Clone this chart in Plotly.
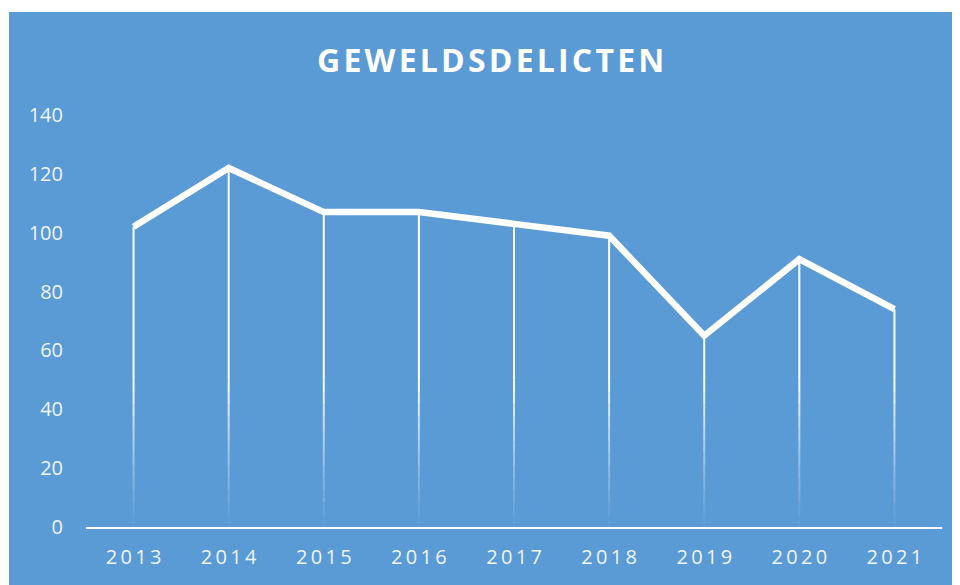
import plotly.graph_objects as go

years = ["2013", "2014", "2015", "2016", "2017", "2018", "2019", "2020", "2021"]
values = [102, 122, 107, 107, 103, 99, 65, 91, 74]
y_ticks = [0, 20, 40, 60, 80, 100, 120, 140]
title_text = "GEWELDSDELICTEN"

BLUE = "#5B9BD5"
OFF = 8  # page body margin
W, H = 960 - OFF, 585 - OFF
L, R, T, B = 86 - OFF, 18, 115 - OFF, 58
pw, ph = W - L - R, H - T - B

fig = go.Figure()

# drop lines: solid top part
fade_top = 50
xs, ys = [], []
for x, v in zip(years, values):
    xs += [x, x, None]
    ys += [v, fade_top, None]
fig.add_trace(go.Scatter(x=xs, y=ys, mode="lines", line=dict(color="white", width=2),
                         hoverinfo="skip", showlegend=False))
# fading part
steps = 12
for k in range(steps):
    y1 = fade_top * (steps - k) / steps
    y0 = fade_top * (steps - k - 1) / steps
    op = 0.95 * ((steps - k) / steps) ** 1.3
    xs, ys = [], []
    for x, v in zip(years, values):
        xs += [x, x, None]
        ys += [min(v, y1), y0, None]
    fig.add_trace(go.Scatter(x=xs, y=ys, mode="lines",
                             line=dict(color=f"rgba(255,255,255,{op:.2f})", width=2),
                             hoverinfo="skip", showlegend=False))

# main line
fig.add_trace(go.Scatter(x=years, y=values, mode="lines",
                         line=dict(color="white", width=6.5),
                         showlegend=False))

def px_to_paper_x(px):
    return (px - OFF - L) / pw

def py_to_paper_y(py):
    return (H - B - (py - OFF)) / ph

shapes = [
    dict(type="rect", xref="paper", yref="paper",
         x0=px_to_paper_x(OFF), x1=px_to_paper_x(9), y0=py_to_paper_y(585), y1=py_to_paper_y(OFF),
         fillcolor="white", line=dict(width=0), layer="below"),
    dict(type="rect", xref="paper", yref="paper",
         x0=px_to_paper_x(OFF), x1=px_to_paper_x(960), y0=py_to_paper_y(12), y1=py_to_paper_y(OFF),
         fillcolor="white", line=dict(width=0), layer="below"),
]

spaced_title = "\u200a".join(title_text)
spaced_years = ["\u2009".join(y) for y in years]

fig.update_layout(
    width=W, height=H,
    margin=dict(l=L, r=R, t=T, b=B),
    paper_bgcolor=BLUE, plot_bgcolor=BLUE,
    shapes=shapes,
    annotations=[dict(text=f"<b>{spaced_title}</b>", xref="paper", yref="paper",
                      x=px_to_paper_x(490), y=py_to_paper_y(60), xanchor="center", yanchor="middle",
                      showarrow=False, font=dict(family="Open Sans", size=32, color="white"))],
    xaxis=dict(type="category", range=[-0.5, len(years) - 0.5],
               tickvals=years, ticktext=spaced_years,
               showgrid=False, zeroline=False, showline=True, linecolor="white", linewidth=2,
               ticks="", tickfont=dict(family="Open Sans", size=20, color="rgba(255,255,255,0.92)"),
               ticklabelstandoff=11),
    yaxis=dict(range=[0, 140], tickvals=y_ticks, showgrid=False, zeroline=False,
               showline=False, ticks="",
               tickfont=dict(family="Open Sans", size=20, color="rgba(255,255,255,0.92)"),
               ticklabelstandoff=22),
)

fig.write_html("out.html")
